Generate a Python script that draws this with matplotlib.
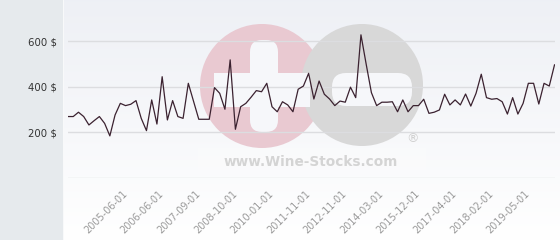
#!/usr/bin/env python3
# -*- coding: utf-8 -*-

# imports
import numpy as np
import matplotlib
matplotlib.use('Agg')
import matplotlib.pyplot as plt
from matplotlib.patches import Rectangle, Circle, FancyBboxPatch


# price per bottle, one value per sale date
prices = [270, 270, 289, 270, 233, 252, 270, 240, 185, 277,
          328, 318, 324, 340, 262, 208, 343, 237, 445, 255,
          340, 270, 262, 416, 337, 258, 258, 258, 397, 372,
          302, 519, 214, 313, 328, 355, 384, 379, 416, 313,
          291, 335, 321, 291, 390, 404, 460, 347, 426, 368,
          347, 318, 338, 333, 399, 353, 629, 500, 375, 318,
          333, 333, 335, 291, 343, 291, 318, 318, 346, 284,
          289, 299, 368, 321, 343, 321, 369, 316, 372, 456,
          353, 346, 349, 335, 281, 353, 281, 328, 416, 416,
          325, 416, 404, 497]

# dates shown on the x axis (every 7th sale)
tick_labels = ['2005-06-01', '2006-06-01', '2007-09-01', '2008-10-01',
               '2010-01-01', '2011-11-01', '2012-11-01', '2014-03-01',
               '2015-12-01', '2017-04-01', '2018-02-01', '2019-05-01']
tick_index = [11, 18, 25, 32, 39, 46, 53, 60, 67, 74, 81, 88]

y_ticks = [200, 400, 600]
y_tick_labels = ['200 $', '400 $', '600 $']


W, H = 560, 240
fig = plt.figure(figsize=(W / 100, H / 100), dpi=100)


### background layer in pixel coordinates
bg = fig.add_axes([0, 0, 1, 1])
bg.set_xlim(0, W)
bg.set_ylim(H, 0)
bg.axis('off')

# grey strip on the left
bg.add_patch(Rectangle((0, 0), 63, H, color='#e6eaed', lw=0))
bg.add_patch(Rectangle((63, 0), 1, H, color='#f8f9fa', lw=0))

# vertical gradient for plot panel
t = np.linspace(0, 1, 256)[:, None, None]
top = np.array([0.933, 0.941, 0.961])[None, None, :]
bot = np.array([1.0, 1.0, 1.0])[None, None, :]
img = top + (bot - top) * t
bg.imshow(img, extent=[64, W, H, 0], aspect='auto', zorder=0)

# watermark logo
bg.add_patch(Circle((262, 86), 62, color='#e9c9d1', lw=0, zorder=1))
bg.add_patch(Circle((362, 85), 61, color='#d8d8d8', lw=0, zorder=2))
wcol = '#f6f7fa'
bg.add_patch(FancyBboxPatch((250, 40), 28, 92, boxstyle='round,pad=0,rounding_size=12',
                            color=wcol, lw=0, zorder=3))
bg.add_patch(Rectangle((214, 73), 96, 34, color=wcol, lw=0, zorder=3))
bg.add_patch(FancyBboxPatch((332, 73), 80, 33, boxstyle='round,pad=0,rounding_size=14',
                            color=wcol, lw=0, zorder=3))
bg.add_patch(Rectangle((198, 148), 228, 26, color='white', alpha=0.2, lw=0, zorder=3))
bg.text(311, 162, 'www.Wine-Stocks.com', ha='center', va='center', fontsize=9.8,
        fontweight='bold', color='#d4d4d4', zorder=4)
bg.text(413, 139, '®', ha='center', va='center', fontsize=9, color='#d0d0d0', zorder=4)


### main chart
left = 68 / W
right = 554.5 / W
bottom = (H - 178) / H
ax = fig.add_axes([left, bottom, right - left, 1 - bottom])
ax.patch.set_alpha(0)

x = np.arange(len(prices))
ax.plot(x, prices, color='#3b2230', lw=0.9, zorder=3)

ax.set_xlim(0, len(prices) - 1)
ax.set_ylim(0, 782)

# grid lines
for v in [0] + y_ticks:
    ax.axhline(v, color='#dcdde0', lw=1, zorder=1)

ax.set_yticks(y_ticks)
ax.set_yticklabels(y_tick_labels, fontsize=7.3, color='#333333')
ax.tick_params(axis='y', length=0, pad=8)

ax.set_xticks(tick_index)
ax.set_xticklabels(tick_labels, rotation=45, ha='right', va='center',
                   rotation_mode='anchor', fontsize=7, color='#9a9a9a')
ax.tick_params(axis='x', length=0, pad=10)

for s in ax.spines.values():
    s.set_visible(False)

fig.savefig('out.png', dpi=100)
